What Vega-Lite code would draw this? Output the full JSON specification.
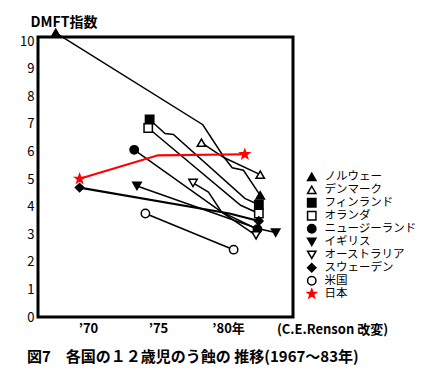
{
  "$schema": "https://vega.github.io/schema/vega-lite/v6.json",
  "width": 255,
  "height": 280,
  "autosize": {"type": "none"},
  "padding": {"left": 38, "top": 37, "right": 142, "bottom": 68},
  "background": "white",
  "config": {
    "font": "Noto Sans CJK JP",
    "view": {"stroke": "black", "strokeWidth": 3},
    "axis": {"grid": false, "ticks": false, "domain": false, "labelFont": "Noto Sans CJK JP", "labelColor": "black", "labelFontSize": 13, "titleColor": "black"}
  },
  "title": {
    "text": "図7　各国の１２歳児のう蝕の 推移(1967～83年)",
    "orient": "bottom",
    "anchor": "start",
    "frame": "group",
    "dx": -11,
    "offset": 14,
    "fontSize": 15,
    "fontWeight": "bold",
    "color": "black",
    "font": "Noto Sans CJK JP"
  },
  "data": {
    "values": [
      {"country": "ノルウェー", "year": 1967.7, "value": 10.3},
      {"country": "ノルウェー", "year": 1978.2, "value": 6.97},
      {"country": "ノルウェー", "year": 1979.7, "value": 5.8},
      {"country": "ノルウェー", "year": 1980.3, "value": 5.41},
      {"country": "ノルウェー", "year": 1981.1, "value": 5.32},
      {"country": "ノルウェー", "year": 1982.3, "value": 4.41},
      {"country": "デンマーク", "year": 1978.1, "value": 6.32},
      {"country": "デンマーク", "year": 1979.7, "value": 5.78},
      {"country": "デンマーク", "year": 1982.3, "value": 5.16},
      {"country": "フィンランド", "year": 1974.4, "value": 7.16},
      {"country": "フィンランド", "year": 1975.5, "value": 6.65},
      {"country": "フィンランド", "year": 1976.1, "value": 6.62},
      {"country": "フィンランド", "year": 1981.2, "value": 4.3},
      {"country": "フィンランド", "year": 1982.2, "value": 4.07},
      {"country": "オランダ", "year": 1974.3, "value": 6.85},
      {"country": "オランダ", "year": 1980.9, "value": 4.05},
      {"country": "オランダ", "year": 1982.2, "value": 3.75},
      {"country": "ニュージーランド", "year": 1973.3, "value": 6.06},
      {"country": "ニュージーランド", "year": 1979.5, "value": 3.82},
      {"country": "ニュージーランド", "year": 1982.1, "value": 3.18},
      {"country": "イギリス", "year": 1973.5, "value": 4.75},
      {"country": "イギリス", "year": 1982.1, "value": 3.21},
      {"country": "イギリス", "year": 1983.4, "value": 3.06},
      {"country": "オーストラリア", "year": 1977.5, "value": 4.86},
      {"country": "オーストラリア", "year": 1978.6, "value": 4.53},
      {"country": "オーストラリア", "year": 1979.55, "value": 3.8},
      {"country": "オーストラリア", "year": 1982.0, "value": 2.96},
      {"country": "スウェーデン", "year": 1969.4, "value": 4.69},
      {"country": "スウェーデン", "year": 1980.1, "value": 3.75},
      {"country": "スウェーデン", "year": 1982.2, "value": 3.48},
      {"country": "米国", "year": 1974.1, "value": 3.75},
      {"country": "米国", "year": 1980.4, "value": 2.44},
      {"country": "日本", "year": 1969.4, "value": 5.01},
      {"country": "日本", "year": 1975.0, "value": 5.86},
      {"country": "日本", "year": 1981.2, "value": 5.9}
    ]
  },
  "encoding": {
    "x": {
      "field": "year",
      "type": "quantitative",
      "scale": {"domain": [1966.43, 1984.64], "nice": false, "zero": false},
      "axis": {
        "values": [1970, 1975, 1980],
        "labelExpr": "datum.value == 1970 ? '’70' : datum.value == 1975 ? '’75' : '’80年'",
        "labelPadding": 5,
        "labelFontWeight": "bold",
        "title": "(C.E.Renson 改変)",
        "titleX": 294,
        "titleY": 12,
        "titleAnchor": "middle",
        "titleAlign": "center",
        "titleBaseline": "middle",
        "titleFontSize": 13,
        "titleFontWeight": "bold"
      }
    },
    "y": {
      "field": "value",
      "type": "quantitative",
      "scale": {"domain": [0, 10.15], "nice": false},
      "axis": {
        "values": [0, 1, 2, 3, 4, 5, 6, 7, 8, 9, 10],
        "labelPadding": 4,
        "title": "DMFT指数",
        "titleAngle": 0,
        "titleX": -8,
        "titleY": -15,
        "titleAlign": "left",
        "titleBaseline": "middle",
        "titleFontSize": 14,
        "titleFontWeight": "bold"
      }
    }
  },
  "layer": [
    {
      "mark": {"type": "line", "strokeJoin": "miter"},
      "encoding": {
        "detail": {"field": "country"},
        "color": {"condition": {"test": "datum.country == '日本'", "value": "red"}, "value": "black"},
        "strokeWidth": {"condition": {"test": "datum.country == '日本' || datum.country == 'スウェーデン'", "value": 2.1}, "value": 1.5}
      }
    },
    {
      "transform": [
        {"joinaggregate": [{"op": "min", "field": "year", "as": "ymin"}, {"op": "max", "field": "year", "as": "ymax"}], "groupby": ["country"]},
        {"filter": "datum.year == datum.ymin || datum.year == datum.ymax"}
      ],
      "mark": {"type": "point", "filled": true, "size": 70, "strokeWidth": 1.5, "opacity": 1},
      "encoding": {
        "shape": {
          "field": "country",
          "type": "nominal",
          "scale": {
            "domain": ["ノルウェー", "デンマーク", "フィンランド", "オランダ", "ニュージーランド", "イギリス", "オーストラリア", "スウェーデン", "米国", "日本"],
            "range": ["triangle-up", "triangle-up", "square", "square", "circle", "triangle-down", "triangle-down", "diamond", "circle", "M0,-1.1L0.26,-0.36L1.05,-0.34L0.42,0.14L0.65,0.9L0,0.44L-0.65,0.9L-0.42,0.14L-1.05,-0.34L-0.26,-0.36Z"]
          },
          "legend": {
            "title": null,
            "orient": "none",
            "legendX": 268,
            "legendY": 134,
            "padding": 0,
            "rowPadding": 0,
            "symbolSize": 70,
            "symbolStrokeWidth": 1.5,
            "labelFontSize": 11.5,
            "labelColor": "black",
            "labelOffset": 7,
            "labelLimit": 200,
            "clipHeight": 11.6
          }
        },
        "fill": {
          "field": "country",
          "type": "nominal",
          "scale": {
            "domain": ["ノルウェー", "デンマーク", "フィンランド", "オランダ", "ニュージーランド", "イギリス", "オーストラリア", "スウェーデン", "米国", "日本"],
            "range": ["black", "white", "black", "white", "black", "black", "white", "black", "white", "red"]
          }
        },
        "stroke": {
          "field": "country",
          "type": "nominal",
          "scale": {
            "domain": ["ノルウェー", "デンマーク", "フィンランド", "オランダ", "ニュージーランド", "イギリス", "オーストラリア", "スウェーデン", "米国", "日本"],
            "range": ["black", "black", "black", "black", "black", "black", "black", "black", "black", "red"]
          }
        }
      }
    }
  ]
}
